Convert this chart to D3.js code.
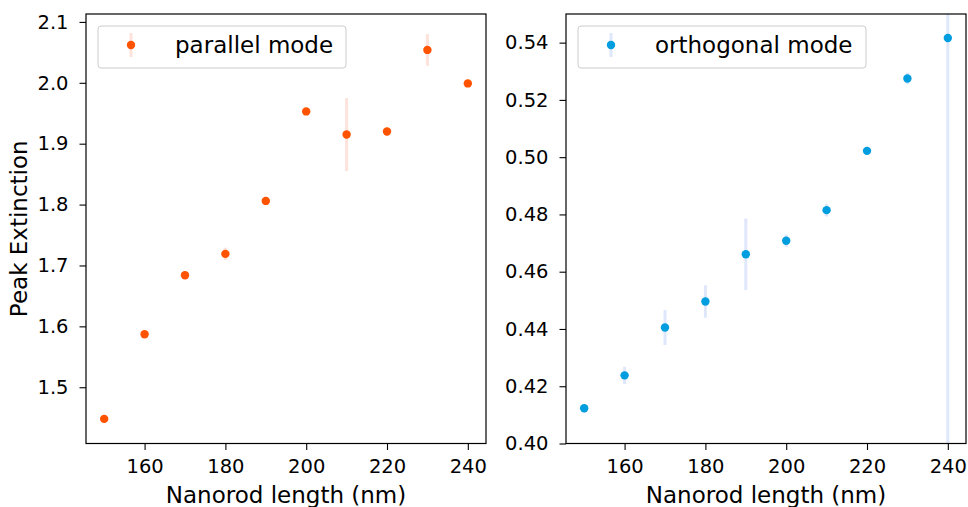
<!DOCTYPE html>
<html>
<head>
<meta charset="utf-8">
<script src="https://cdnjs.cloudflare.com/ajax/libs/d3/7.8.5/d3.min.js"></script>
<style>
body { margin: 0; background: #fff; }
svg text { font-family: "DejaVu Sans", sans-serif; fill: #000; }
</style>
</head>
<body>
<svg id="svg0"></svg>
<script>
// nanorod lengths (nm)
let lengths = [150, 160, 170, 180, 190, 200, 210, 220, 230, 240];
// parallel mode peak extinction and error
let parallelValues = [1.448, 1.587, 1.684, 1.719, 1.806, 1.953, 1.915, 1.920, 2.054, 1.999];
let parallelErrors = [0.004, 0.004, 0.004, 0.010, 0.004, 0.004, 0.060, 0.004, 0.026, 0.003];
// orthogonal mode peak extinction and error
let orthoValues = [0.4123, 0.4238, 0.4405, 0.4496, 0.4661, 0.4708, 0.4815, 0.5022, 0.5275, 0.5416];
let orthoErrors = [0.0015, 0.0030, 0.0061, 0.0057, 0.0125, 0.0022, 0.0022, 0.0012, 0.0020, 0.2000];

let xTicks = [160, 180, 200, 220, 240];
let parallelTicks = [1.5, 1.6, 1.7, 1.8, 1.9, 2.0, 2.1];
let orthoTicks = [0.40, 0.42, 0.44, 0.46, 0.48, 0.50, 0.52, 0.54];

let width = 968, height = 507;
let svg = d3.select('#svg0').attr('width', width).attr('height', height);

let panels = [
    {left: 86, values: parallelValues, errors: parallelErrors, yDomain: [1.4076, 2.113], ticks: parallelTicks,
     fmt: d3.format('.1f'), color: '#ff5300', errColor: '#fde3dc', label: 'parallel mode', legendW: 248, yLabel: 'Peak Extinction'},
    {left: 566, values: orthoValues, errors: orthoErrors, yDomain: [0.40, 0.55], ticks: orthoTicks,
     fmt: d3.format('.2f'), color: '#009ddf', errColor: '#dfe7fb', label: 'orthogonal mode', legendW: 288, yLabel: null}
];

let plotW = 400, plotTop = 14, plotH = 429.5;

panels.forEach((p, pi)=>{
    let g = svg.append('g').attr('transform', 'translate(' + p.left + ', ' + plotTop + ')');
    let xScale = d3.scaleLinear().domain([145.5, 244.5]).range([0, plotW]);
    let yScale = d3.scaleLinear().domain(p.yDomain).range([plotH, 0]);

    let clipId = 'clip' + pi;
    g.append('clipPath').attr('id', clipId).append('rect').attr('width', plotW).attr('height', plotH);
    let data = lengths.map((l, i)=>{ return {x: l, y: p.values[i], e: p.errors[i]}; });

    let plot = g.append('g').attr('clip-path', 'url(#' + clipId + ')');
    // error bars
    plot.selectAll('.err').data(data).enter().append('line')
        .attr('class', 'err')
        .attr('x1', d=>xScale(d.x)).attr('x2', d=>xScale(d.x))
        .attr('y1', d=>yScale(d.y - d.e)).attr('y2', d=>yScale(d.y + d.e))
        .style('stroke', p.errColor).style('stroke-width', 3);
    // points
    plot.selectAll('circle').data(data).enter().append('circle')
        .attr('cx', d=>xScale(d.x)).attr('cy', d=>yScale(d.y))
        .attr('r', 4.2).style('fill', p.color);

    // axes
    let xAxis = g.append('g').attr('transform', 'translate(0, ' + plotH + ')')
        .call(d3.axisBottom(xScale).tickValues(xTicks).tickSize(6.5).tickPadding(9.5));
    let yAxis = g.append('g')
        .call(d3.axisLeft(yScale).tickValues(p.ticks).tickFormat(p.fmt).tickSize(6.5).tickPadding(11));
    [xAxis, yAxis].forEach(a=>{
        a.select('.domain').remove();
        a.selectAll('line').style('stroke', '#000').style('stroke-width', 1.1);
        a.selectAll('text').style('font-size', '19.5px').style('font-family', '"DejaVu Sans", sans-serif');
    });

    // frame
    g.append('rect').attr('width', plotW).attr('height', plotH)
        .style('fill', 'none').style('stroke', '#000').style('stroke-width', 1.2);

    // x label
    g.append('text').attr('x', plotW / 2).attr('y', plotH + 59.5)
        .text('Nanorod length (nm)').style('font-size', '23px').style('text-anchor', 'middle');
    if (p.yLabel){
        g.append('text').attr('transform', 'translate(' + (-59) + ', ' + plotH / 2 + ') rotate(-90)')
            .text(p.yLabel).style('font-size', '23px').style('text-anchor', 'middle');
    }

    // legend
    let lg = g.append('g').attr('transform', 'translate(12, 12)');
    lg.append('rect').attr('width', p.legendW).attr('height', 42).attr('rx', 3)
        .style('fill', '#fff').style('fill-opacity', 0.8).style('stroke', '#ccc').style('stroke-width', 1);
    lg.append('line').attr('x1', 33).attr('x2', 33).attr('y1', 7).attr('y2', 31)
        .style('stroke', p.errColor).style('stroke-width', 3);
    lg.append('circle').attr('cx', 33).attr('cy', 19).attr('r', 4.2).style('fill', p.color);
    lg.append('text').attr('x', 77).attr('y', 19).attr('dy', '0.35em')
        .text(p.label).style('font-size', '23px');
});
</script>
</body>
</html>
